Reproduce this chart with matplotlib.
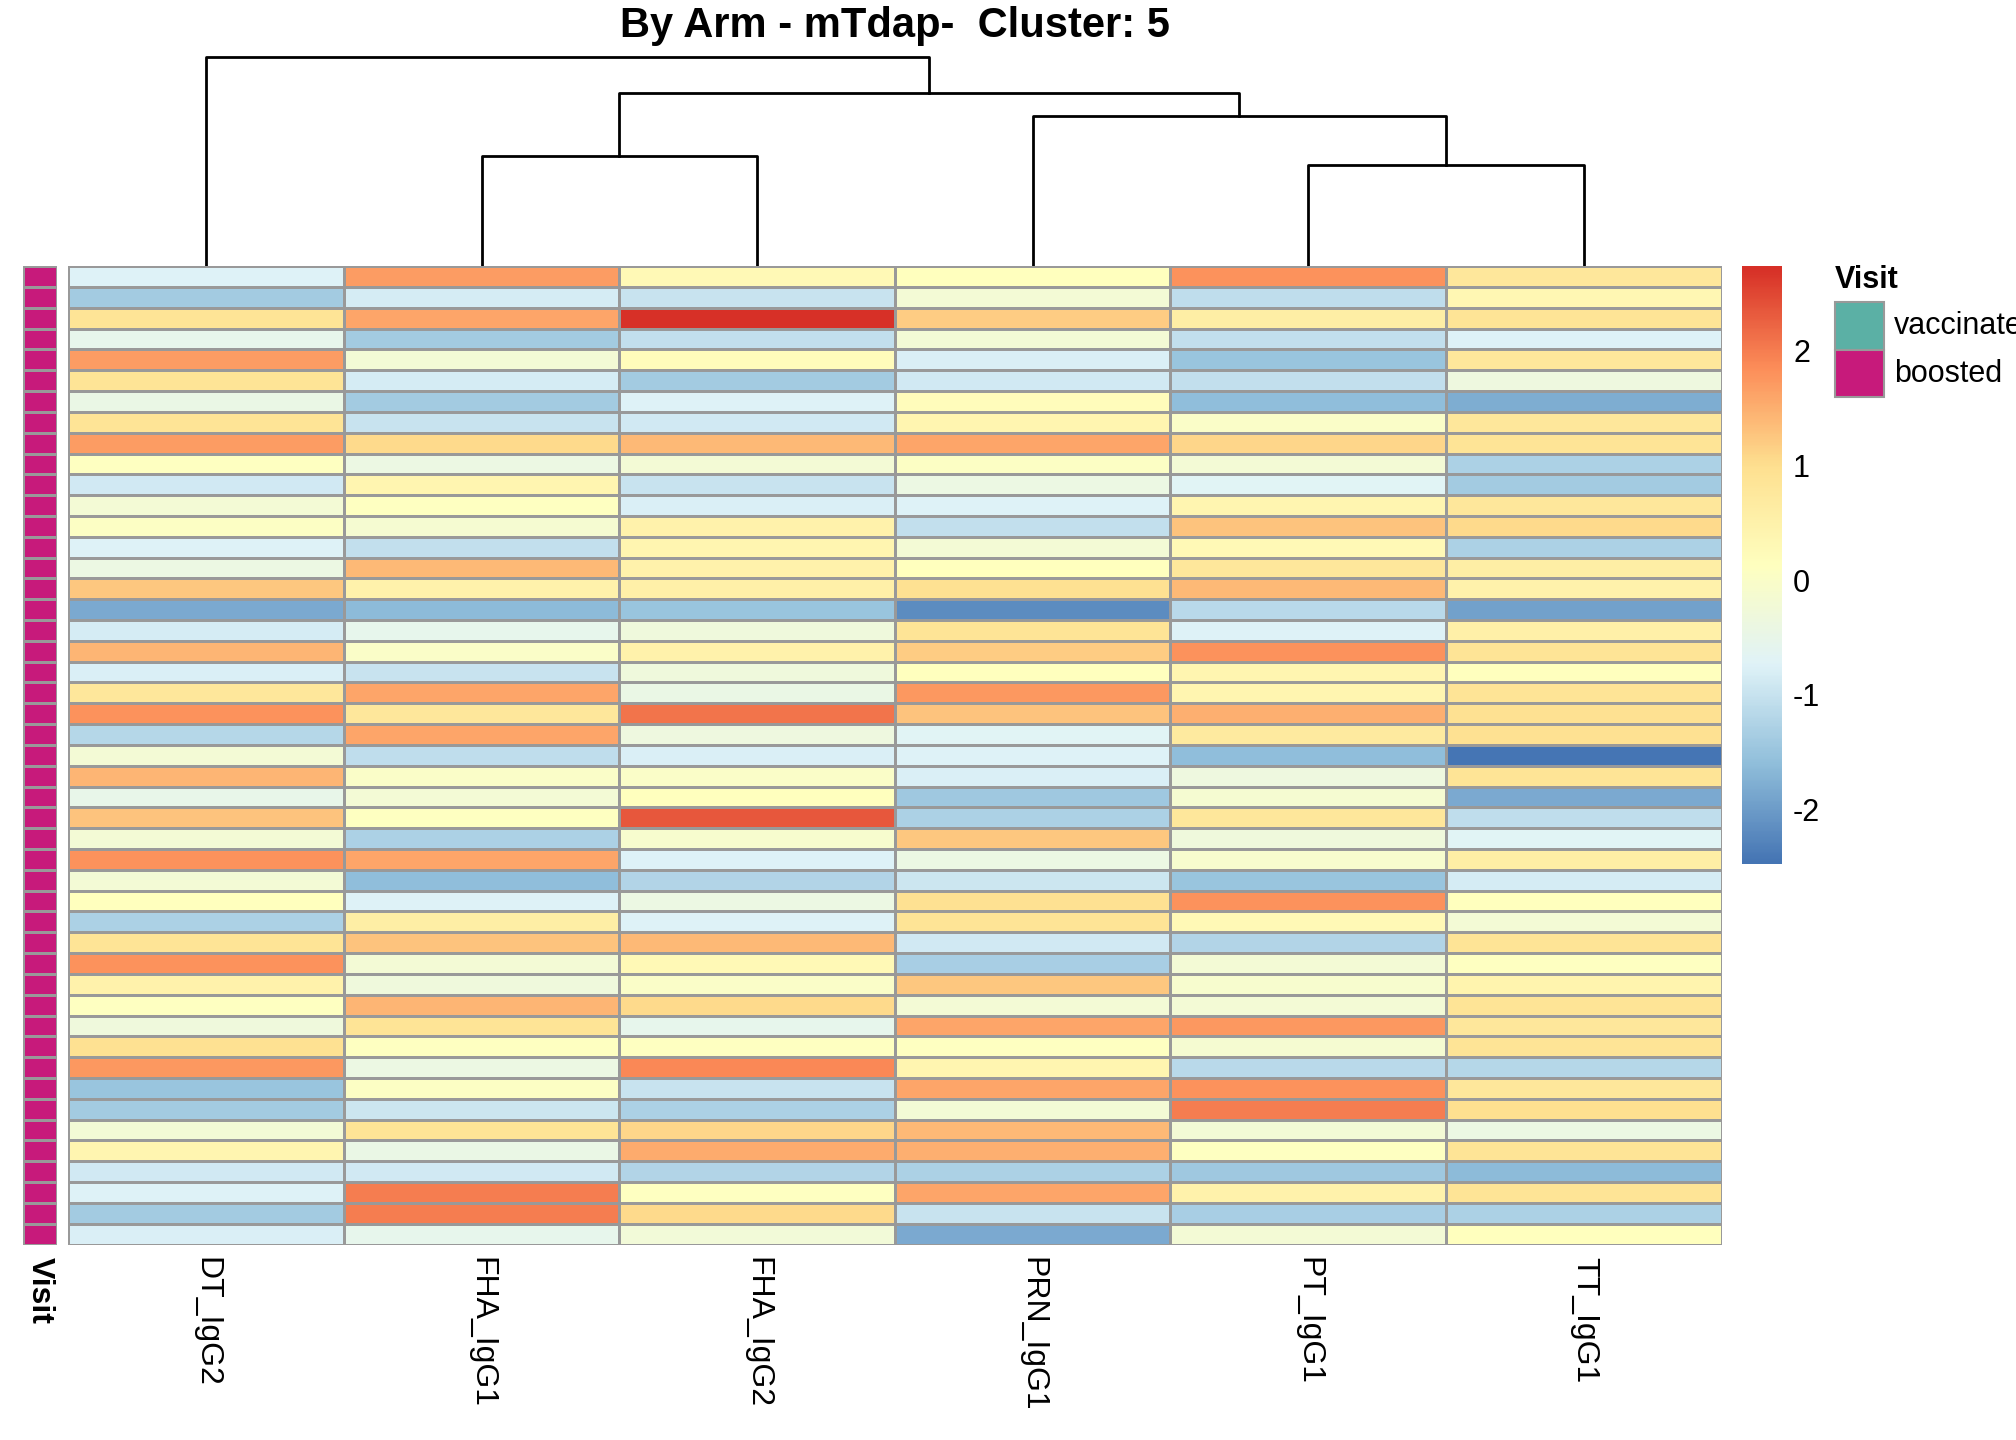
import numpy as np
import matplotlib
matplotlib.use("Agg")
import matplotlib.pyplot as plt
from matplotlib.colors import LinearSegmentedColormap, ListedColormap
from matplotlib.patches import Rectangle

plt.rcParams['font.family'] = ['Liberation Sans', 'DejaVu Sans']

columns = ["DT_IgG2", "FHA_IgG1", "FHA_IgG2", "PRN_IgG1", "PT_IgG1", "TT_IgG1"]
values = [
    [-0.75, 1.7, 0.3, 0.15, 1.8, 0.8],
    [-1.4, -0.85, -1.0, -0.2, -1.1, 0.35],
    [0.9, 1.6, 2.73, 1.2, 0.6, 0.9],
    [-0.55, -1.4, -1.05, -0.2, -1.05, -0.75],
    [1.7, -0.2, 0.2, -0.8, -1.5, 0.8],
    [0.9, -0.85, -1.4, -0.9, -1.05, -0.35],
    [-0.45, -1.4, -0.75, 0.2, -1.6, -1.8],
    [0.9, -1.0, -0.9, 0.4, 0.0, 0.8],
    [1.7, 1.05, 1.4, 1.6, 1.1, 0.9],
    [0.1, -0.4, -0.2, 0.05, -0.2, -1.3],
    [-0.9, 0.4, -1.0, -0.4, -0.7, -1.4],
    [-0.2, 0.1, -0.8, -0.75, 0.4, 0.8],
    [0.05, -0.15, 0.5, -1.05, 1.3, 1.05],
    [-0.75, -1.05, 0.4, -0.2, 0.3, -1.3],
    [-0.4, 1.4, 0.5, 0.15, 0.8, 0.6],
    [1.25, 0.5, 0.55, 0.95, 1.4, 0.5],
    [-1.85, -1.65, -1.5, -2.2, -1.15, -1.95],
    [-0.85, -0.55, -0.3, 0.9, -0.75, 0.55],
    [1.45, 0.0, 0.5, 1.2, 1.8, 0.9],
    [-0.8, -1.0, -0.3, 0.15, 0.4, 0.15],
    [0.8, 1.6, -0.45, 1.75, 0.4, 0.9],
    [1.8, 0.8, 2.1, 1.3, 1.5, 0.95],
    [-1.2, 1.6, -0.35, -0.7, 0.7, 0.95],
    [-0.2, -1.1, -0.8, -0.75, -1.6, -2.47],
    [1.45, 0.0, 0.0, -0.8, -0.35, 0.9],
    [-0.5, -0.2, 0.15, -1.45, -0.15, -1.85],
    [1.3, 0.1, 2.35, -1.3, 0.8, -1.1],
    [-0.2, -1.3, -0.1, 1.25, -0.3, -0.7],
    [1.8, 1.6, -0.75, -0.4, -0.1, 0.6],
    [-0.2, -1.6, -1.25, -0.95, -1.5, -0.85],
    [0.15, -0.75, -0.4, 0.95, 1.8, 0.15],
    [-1.3, 0.6, -0.75, 0.9, 0.3, -0.2],
    [0.9, 1.3, 1.4, -0.9, -1.25, 0.9],
    [1.8, -0.2, 0.3, -1.35, -0.2, 0.1],
    [0.5, -0.3, 0.0, 1.25, -0.1, 0.45],
    [0.1, 1.45, 1.05, -0.2, -0.2, 0.9],
    [-0.3, 0.9, -0.55, 1.6, 1.75, 0.8],
    [0.95, 0.1, 0.1, 0.1, -0.15, 0.9],
    [1.75, -0.4, 1.9, 0.4, -1.15, -1.2],
    [-1.5, 0.05, -1.0, 1.6, 1.8, 0.8],
    [-1.4, -0.95, -1.3, -0.2, 2.0, 1.0],
    [-0.2, 0.9, 1.1, 1.4, -0.2, -0.4],
    [0.4, -0.45, 1.55, 1.5, 0.1, 0.9],
    [-0.9, -0.9, -1.25, -1.3, -1.45, -1.65],
    [-0.75, 2.0, 0.1, 1.6, 0.5, 0.9],
    [-1.4, 2.0, 1.05, -1.0, -1.35, -1.3],
    [-0.8, -0.55, -0.25, -1.85, -0.2, 0.15],
]
# dendrogram merges: (left node, right node, height); leaves 0..5, new nodes 6..
merges = [(1, 2, 86), (4, 5, 79), (3, 7, 117), (6, 8, 135), (0, 9, 163)]
visit_levels = ["vaccinated", "boosted"]
visit_colors = ["#5BB0A5", "#C71A7B"]
ticks = [-2, -1, 0, 1, 2]
vmin, vmax = -2.47, 2.73

data = np.array(values)
nr, nc = data.shape
cmap = LinearSegmentedColormap.from_list(
    "rdylbu", ["#4575B4", "#91BFDB", "#E0F3F8", "#FFFFBF", "#FEE090", "#FC8D59", "#D73027"])

W, H = 1568, 1120
def box(x0, y0, x1, y1):
    return [x0 / W, 1 - y1 / H, (x1 - x0) / W, (y1 - y0) / H]

fig = plt.figure(figsize=(20.16, 14.4), dpi=100)

ax = fig.add_axes(box(53, 207, 1339, 968))
ax.pcolormesh(data, cmap=cmap, vmin=vmin, vmax=vmax, edgecolors="#999999", linewidth=1.8)
ax.set_xlim(0, nc); ax.set_ylim(nr, 0)
ax.set_xticks([]); ax.set_yticks([])
for s in ax.spines.values():
    s.set_visible(False)
for i, c in enumerate(columns):
    fig.text((53 + (i + 0.5) * (1286 / nc)) / W, 1 - 978 / H, c, rotation=270,
             ha="center", va="top", fontsize=23)

axa = fig.add_axes(box(18, 207, 44, 968))
ann = np.ones((nr, 1))
axa.pcolormesh(ann, cmap=ListedColormap(visit_colors), vmin=0, vmax=1,
               edgecolors="#999999", linewidth=1.8)
axa.set_xlim(0, 1); axa.set_ylim(nr, 0)
axa.axis("off")
fig.text(31 / W, 1 - 978 / H, "Visit", rotation=270, ha="center", va="top",
         fontsize=23, fontweight="bold")

axd = fig.add_axes(box(53, 40, 1339, 207))
pos = {i: i + 0.5 for i in range(nc)}
hgt = {i: 0 for i in range(nc)}
for k, (a, b, h) in enumerate(merges):
    axd.plot([pos[a], pos[a], pos[b], pos[b]], [hgt[a], h, h, hgt[b]], color="black", lw=2)
    pos[nc + k] = (pos[a] + pos[b]) / 2
    hgt[nc + k] = h
axd.set_xlim(0, nc); axd.set_ylim(0, 167)
axd.axis("off")

axc = fig.add_axes(box(1355, 207, 1386, 672))
grad = np.linspace(vmin, vmax, 200).reshape(-1, 1)
axc.imshow(grad, aspect="auto", cmap=cmap, origin="lower", extent=[0, 1, vmin, vmax])
axc.set_xticks([])
axc.yaxis.tick_right()
axc.set_yticks(ticks)
axc.set_yticklabels([str(t) for t in ticks], fontsize=22)
axc.tick_params(axis="y", length=0, pad=8)
for s in axc.spines.values():
    s.set_visible(False)

fig.text(1427 / W, 1 - 218 / H, "Visit", fontsize=22, fontweight="bold", va="center", ha="left")
for j, (lab, col) in enumerate(zip(visit_levels, visit_colors)):
    y0 = 235 + j * 37
    fig.patches.append(Rectangle((1427 / W, 1 - (y0 + 37) / H), 38 / W, 37 / H,
                                 transform=fig.transFigure, facecolor=col,
                                 edgecolor="#999999", lw=1.5))
    fig.text(1473 / W, 1 - (y0 + 18.5) / H, lab, fontsize=22, va="center", ha="left")

fig.text(696 / W, 1 - 20 / H, "By Arm - mTdap-  Cluster: 5", fontsize=30,
         fontweight="bold", ha="center", va="center")

fig.savefig("out.png", dpi=100)
